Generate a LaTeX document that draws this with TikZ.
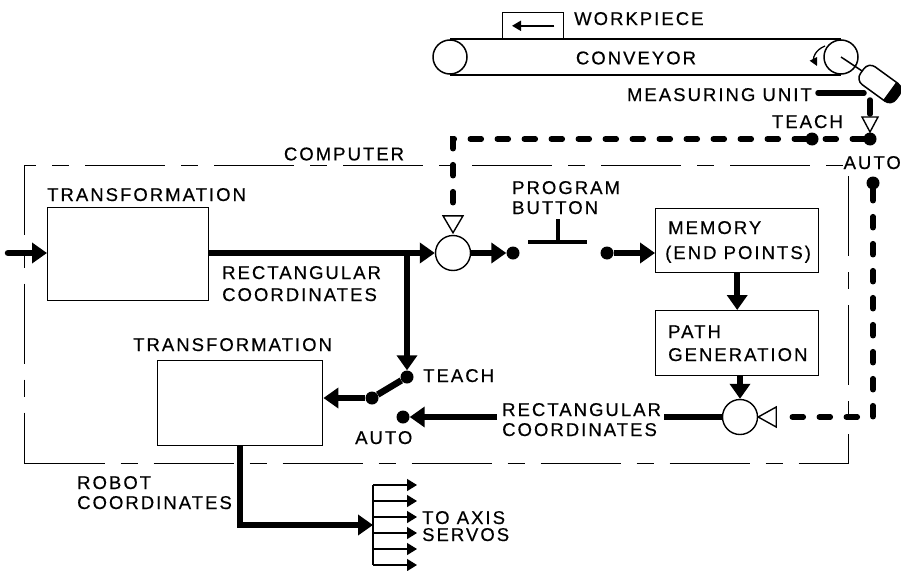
\documentclass[tikz,border=0pt]{standalone}
\usepackage{fontspec}
\setmainfont{Liberation Sans}[LetterSpace=11, FakeBold=0.5]
\usetikzlibrary{arrows.meta}

\begin{document}
\begin{tikzpicture}[x=1pt,y=-1pt,
  lbl/.style={inner sep=0pt, font=\fontsize{18.5}{20}\selectfont, anchor=base west},
  box/.style={draw, line width=1.4pt, inner sep=0pt, anchor=north west},
  roll/.style={draw, circle, line width=1.5pt, minimum size=34pt, inner sep=0pt, fill=white},
  junction/.style={draw, circle, line width=1.4pt, minimum size=35pt, inner sep=0pt},
  dot/.style={circle, fill, minimum size=13pt, inner sep=0pt},
  sig/.style={line width=6.5pt},
  tip/.style={-{Triangle[length=15pt,width=20pt]}},
  dsig/.style={line width=5.5pt, line cap=round, dash pattern=on 11pt off 16pt},
  opentri/.style={draw, line width=1.4pt, fill=white, line join=miter},
  servo/.style={line width=1.4pt, -{Triangle[length=10pt,width=12pt]}},
  cpu/.style={draw, line width=1.3pt, dash pattern=on 80pt off 16pt on 17pt off 16pt}
]
\useasboundingbox (0,0) rectangle (901,570);

% ---------- conveyor with workpiece and measuring unit ----------
\node[roll] (lroll) at (450,57) {};
\node[roll] (rroll) at (841,57) {};
\draw[line width=2.2pt] (lroll.north) -- (rroll.north);
\draw[line width=2.2pt] (lroll.south) -- (rroll.south);
\node[lbl, anchor=center] (conv) at (636,58) {CONVEYOR};

\node[box, minimum width=61pt, minimum height=27pt, anchor=south west] (wp) at (502,40) {};
\draw[line width=2pt, -{Triangle[length=9pt,width=10pt]}] ([xshift=-10pt]wp.east) -- ([xshift=10pt]wp.west);
\node[lbl] (wplbl) at (574,25) {WORKPIECE};

% turning direction of the drive roll
\draw[line width=1.3pt, -{Triangle[length=8pt,width=8pt]}] (825,46) .. controls (815,50) and (813,58) .. (817,66);

% measuring unit on the roll shaft
\begin{scope}[shift={(880,84)}, rotate=-36]
  \coordinate (mu) at (0,0);
  \coordinate (mushaft) at (-22,0);
  \draw[line width=1.5pt, fill=white, rounded corners=8pt] (-22,-11) rectangle (22,11);
  \begin{scope}
    \clip (12,-13) rectangle (24,13);
    \fill[rounded corners=8pt] (-22,-11) rectangle (22,11);
  \end{scope}
\end{scope}
\draw[line width=1.5pt] (rroll.center) -- (mushaft);

\node[lbl, anchor=base east] (mulbl) at (812,101) {MEASURING UNIT};
\coordinate (m1) at (818,93);
\coordinate (m2) at (864,93);
\coordinate (m3) at (870,100);
\coordinate (m4) at (870,114);
\draw[line width=5.5pt, line cap=round] (m1) -- (m2);
\draw[line width=5.5pt, line cap=round] (m3) -- (m4);
\draw[opentri] (862,117) -- (878,117) -- (870,132) -- cycle;

% teach / auto switch of the measured signal
\node[dot] (pivot) at (870,139) {};
\node[dot] (teachd) at (812,139) {};
\node[dot] (autod) at (873,183) {};
\node[lbl, anchor=base east] (teachlbl) at (843,128) {TEACH};
\node[lbl, anchor=base east] (autolbl) at (901,169) {AUTO};
\draw[dsig] (pivot) -- (teachd);

% ---------- computer ----------
\node[cpu, minimum width=824pt, minimum height=298pt, inner sep=0pt, anchor=north west] (cpu) at (24,165) {};
\node[lbl, anchor=center] (cpulbl) at (344,154) {COMPUTER};

% first transformation
\node[box, minimum width=161pt, minimum height=93pt] (tr1) at (47,207) {};
\node[lbl] (tr1lbl) at (47,201) {TRANSFORMATION};
\coordinate (in) at (8,253);
\draw[sig, line cap=round, tip] (in) -- (in -| tr1.west);

% summing junction
\node[junction] (sum) at (453,253) {};
\draw[sig, tip] (tr1.east |- sum) -- (sum.west);
\node[lbl] (rc1) at (222,279) {RECTANGULAR};
\node[lbl] (rc2) at (222,301) {COORDINATES};
\coordinate (tcorner) at (sum |- teachd);
\draw[dsig] (teachd) -- (tcorner) -- ([shift={(0,-22)}]sum.north);
\draw[opentri] ([shift={(-10,-19)}]sum.north) -- ([shift={(10,-19)}]sum.north) -- ([shift={(0,-2)}]sum.north) -- cycle;

% program button
\node[dot] (dA) at (513,253) {};
\node[dot] (dB) at (607,253) {};
\draw[sig, tip] (sum.east) -- (dA.west);
\coordinate (btn) at (558,242);
\draw[line width=4.5pt] (528,242) -- (587,242);
\draw[line width=4.5pt] (btn) -- (558,219);
\node[lbl] (pb1) at (512,194) {PROGRAM};
\node[lbl] (pb2) at (512,214) {BUTTON};

% memory and path generation
\node[box, minimum width=163pt, minimum height=64pt] (mem) at (655,208) {};
\node[lbl] (mem1) at (668,234) {MEMORY};
\node[lbl] (mem2) at (665,259) {(END POINTS)};
\draw[sig, tip] (dB) -- (dB -| mem.west);
\node[box, minimum width=163pt, minimum height=65pt] (pg) at (655,310) {};
\node[lbl] (pg1) at (668,338) {PATH};
\node[lbl] (pg2) at (668,361) {GENERATION};
\draw[sig, tip] (mem.south) -- (mem.south |- pg.north);

% comparison junction
\node[junction] (comp) at (740,417) {};
\draw[sig, tip] (comp |- pg.south) -- (comp.north);
\coordinate (acorner) at (autod |- comp);
\draw[dsig] (autod) -- (acorner) -- ([xshift=24pt]comp.east);
\draw[opentri] (comp.east) -- ([shift={(18,-10)}]comp.east) -- ([shift={(18,10)}]comp.east) -- cycle;

% teach / auto switch inside the computer
\coordinate (br) at (407,253);
\node[dot] (tdot) at (407,377) {};
\node[dot] (pdot) at (372,398) {};
\node[dot] (adot) at (403,417) {};
\draw[sig, tip] (br) -- (tdot.north);
\draw[sig] (tdot) -- (pdot);
\node[lbl] (tlbl) at (423,382) {TEACH};
\node[lbl] (albl) at (355,444) {AUTO};

\node[lbl] (rl1) at (502,416) {RECTANGULAR};
\node[lbl] (rl2) at (502,436) {COORDINATES};
\coordinate (rle) at ([xshift=3pt]rl1.east);
\coordinate (rlw) at ([xshift=-5pt]rl1.west);
\draw[sig] (comp.west) -- (comp.west -| rle);
\draw[sig, tip] (rlw |- comp.west) -- (adot.east);

% second transformation
\node[box, minimum width=165pt, minimum height=85pt] (tr2) at (157,360) {};
\node[lbl] (tr2lbl) at (133,351) {TRANSFORMATION};
\draw[sig, tip] (pdot) -- (pdot -| tr2.east);

% output to the axis servos
\coordinate (bus) at (373,525);
\draw[sig, tip] (tr2.south) |- (bus);
\node[lbl] (ro1) at (77,489) {ROBOT};
\node[lbl] (ro2) at (77,509) {COORDINATES};
\draw[line width=1.4pt] (373,485) -- (373,565);
\foreach \yy in {485,501,517,533,549,565}
  \draw[servo] (373,\yy) -- (417,\yy);
\node[lbl] (ax1) at (422,524) {TO AXIS};
\node[lbl] (ax2) at (422,541) {SERVOS};
\end{tikzpicture}
\end{document}
